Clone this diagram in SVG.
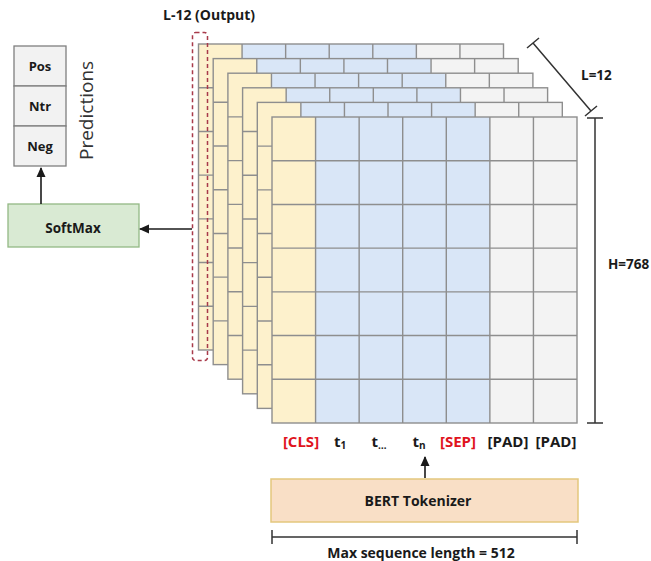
<svg xmlns="http://www.w3.org/2000/svg" width="651" height="561" viewBox="0 0 651 561">
<style>
.t{font-family:"Open Sans","Liberation Sans",sans-serif;font-weight:bold;fill:#1a1a1a}
.c{text-anchor:middle}
.grid{fill:none;stroke:#8e8e8e;stroke-width:1.4}
.con{stroke:#1a1a1a;stroke-width:1.6;fill:none}
.dim{stroke:#333;stroke-width:1.5;fill:none}
.red{fill:#e0141e}
</style>
<defs>
<marker id="ah" viewBox="0 0 10 10" refX="9" refY="5" markerWidth="10" markerHeight="10" markerUnits="userSpaceOnUse" orient="auto">
<path d="M0,0.5 L10,5 L0,9.5 z" fill="#1a1a1a"/>
</marker>
<g id="layer">
<rect x="0" y="0" width="43.57" height="306" fill="#fdf1cc"/>
<rect x="43.57" y="0" width="174.29" height="306" fill="#d9e6f7"/>
<rect x="217.86" y="0" width="87.14" height="306" fill="#f3f3f3"/>
<path class="grid" d="M43.57,0V306M87.14,0V306M130.71,0V306M174.29,0V306M217.86,0V306M261.43,0V306M0,43.71H305M0,87.43H305M0,131.14H305M0,174.86H305M0,218.57H305M0,262.29H305"/>
<rect class="grid" x="0" y="0" width="305" height="306"/>
</g>
</defs>
<rect width="651" height="561" fill="#fff"/>

<g id="layers">
<use href="#layer" x="198.5" y="44"/>
<use href="#layer" x="213.2" y="58.6"/>
<use href="#layer" x="227.9" y="73.2"/>
<use href="#layer" x="242.6" y="87.8"/>
<use href="#layer" x="257.3" y="102.4"/>
<use href="#layer" x="272" y="117"/>
</g>

<g id="output-layer">
<rect x="192.5" y="32.5" width="15" height="328" rx="3" fill="none" stroke="#a83a4a" stroke-width="1.5" stroke-dasharray="4 3"/>
<text class="t" x="163" y="20" font-size="14">L-12 (Output)</text>
</g>

<g id="predictions">
<rect x="14" y="46" width="52" height="40" fill="#f2f2f2" stroke="#7f7f7f" stroke-width="1.3"/>
<rect x="14" y="86" width="52" height="40" fill="#f2f2f2" stroke="#7f7f7f" stroke-width="1.3"/>
<rect x="14" y="126" width="52" height="40" fill="#f2f2f2" stroke="#7f7f7f" stroke-width="1.3"/>
<text class="t c" x="40" y="71" font-size="13">Pos</text>
<text class="t c" x="40" y="111" font-size="13">Ntr</text>
<text class="t c" x="40" y="150.5" font-size="13">Neg</text>
<text transform="translate(93,160) rotate(-90)" font-family="Open Sans, Liberation Sans, sans-serif" font-size="19" fill="#333">Predictions</text>
</g>

<g id="softmax">
<rect x="8" y="204" width="131" height="43" fill="#d9ead3" stroke="#93b884" stroke-width="1.3"/>
<text class="t c" x="73" y="233" font-size="13.5">SoftMax</text>
</g>

<g id="tokenizer">
<rect x="271" y="479" width="307" height="43" fill="#f9dfc6" stroke="#e3c77d" stroke-width="1.5"/>
<text class="t c" x="418" y="505.5" font-size="14">BERT Tokenizer</text>
</g>

<g id="tokens" font-size="15">
<text class="t c red" x="301" y="447">[CLS]</text>
<text class="t c" x="340" y="447">t<tspan font-size="10" dy="2">1</tspan></text>
<text class="t c" x="379" y="447">t<tspan font-size="10" dy="2">…</tspan></text>
<text class="t c" x="419" y="447">t<tspan font-size="10" dy="2">n</tspan></text>
<text class="t c red" x="458" y="447">[SEP]</text>
<text class="t c" x="508" y="447">[PAD]</text>
<text class="t c" x="556" y="447">[PAD]</text>
</g>

<g id="dimensions">
<path class="dim" d="M533,43 L591,111 M527,48 L539,38 M585,116 L597,106"/>
<text class="t" x="581" y="80" font-size="13.5">L=12</text>
<path class="dim" d="M595,118 V423 M587,118 H603 M587,423 H603"/>
<text class="t" x="608" y="269" font-size="13.5">H=768</text>
<path class="dim" d="M272,537 H577 M272,530 V544 M577,530 V544"/>
<text class="t c" x="421" y="558" font-size="14">Max sequence length = 512</text>
</g>

<g id="connectors">
<path class="con" d="M41,204 V168" marker-end="url(#ah)"/>
<path class="con" d="M192,229 H140" marker-end="url(#ah)"/>
<path class="con" d="M425,478 V457" marker-end="url(#ah)"/>
</g>
</svg>
